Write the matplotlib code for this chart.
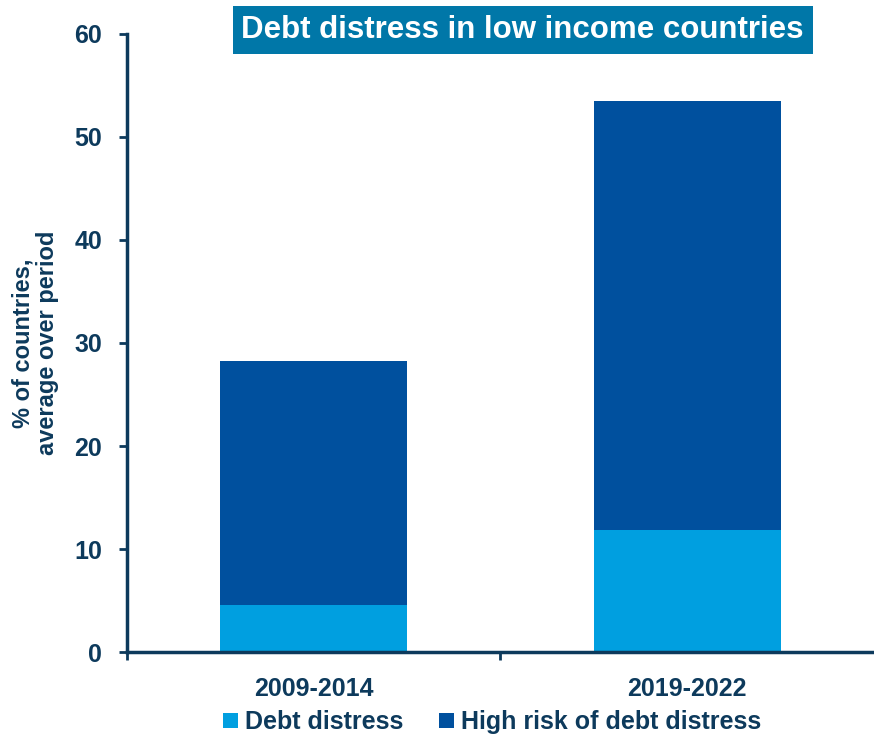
import matplotlib
matplotlib.use("Agg")
import matplotlib.pyplot as plt
import numpy as np

plt.rcParams['font.family'] = ['Liberation Sans', 'DejaVu Sans']

periods = ['2009-2014', '2019-2022']
debt_distress = [4.6, 11.8]
high_risk = [23.7, 41.7]

navy = '#0d3a5c'
light = '#009fe0'
dark = '#00509e'

fig = plt.figure(figsize=(8.74, 7.37), dpi=100)
ax = fig.add_axes([0.1453, 0.1153, 0.8547, 0.8386])

x = np.arange(len(periods))
ax.bar(x, debt_distress, width=0.5, color=light, label='Debt distress')
ax.bar(x, high_risk, width=0.5, bottom=debt_distress, color=dark,
       label='High risk of debt distress')

ax.set_xlim(-0.5, 1.5)
ax.set_ylim(0, 60)
ax.set_yticks(range(0, 61, 10))
ax.set_xticks(x)
ax.set_xticklabels(periods)
ax.set_xticks([-0.5, 0.5], minor=True)

for s in ['top', 'right']:
    ax.spines[s].set_visible(False)
for s in ['left', 'bottom']:
    ax.spines[s].set_color(navy)
    ax.spines[s].set_linewidth(2.5)

ax.tick_params(axis='y', colors=navy, width=2, length=6, labelsize=18, pad=12)
ax.tick_params(axis='x', which='major', length=0, labelsize=18, colors=navy, pad=18)
ax.tick_params(axis='x', which='minor', length=6, width=2, color=navy)
for lbl in ax.get_xticklabels() + ax.get_yticklabels():
    lbl.set_fontweight('bold')

ax.set_ylabel('% of countries,\naverage over period', fontsize=17,
              fontweight='bold', color=navy, labelpad=11, linespacing=1.05)

fig.text(0.598, 0.9594, 'Debt distress in low income countries', ha='center',
         va='center', fontsize=22.5, fontweight='bold', color='white',
         bbox=dict(boxstyle='square,pad=0.28', facecolor='#0077a8', edgecolor='none'))

leg = fig.legend(loc='center', bbox_to_anchor=(0.563, 0.02), ncol=2, frameon=False,
                 fontsize=18, handlelength=0.6, handleheight=0.6, handletextpad=0.3,
                 columnspacing=1.4, borderaxespad=0)
for t in leg.get_texts():
    t.set_color(navy)
    t.set_fontweight('bold')

fig.savefig('out.png', dpi=100)
